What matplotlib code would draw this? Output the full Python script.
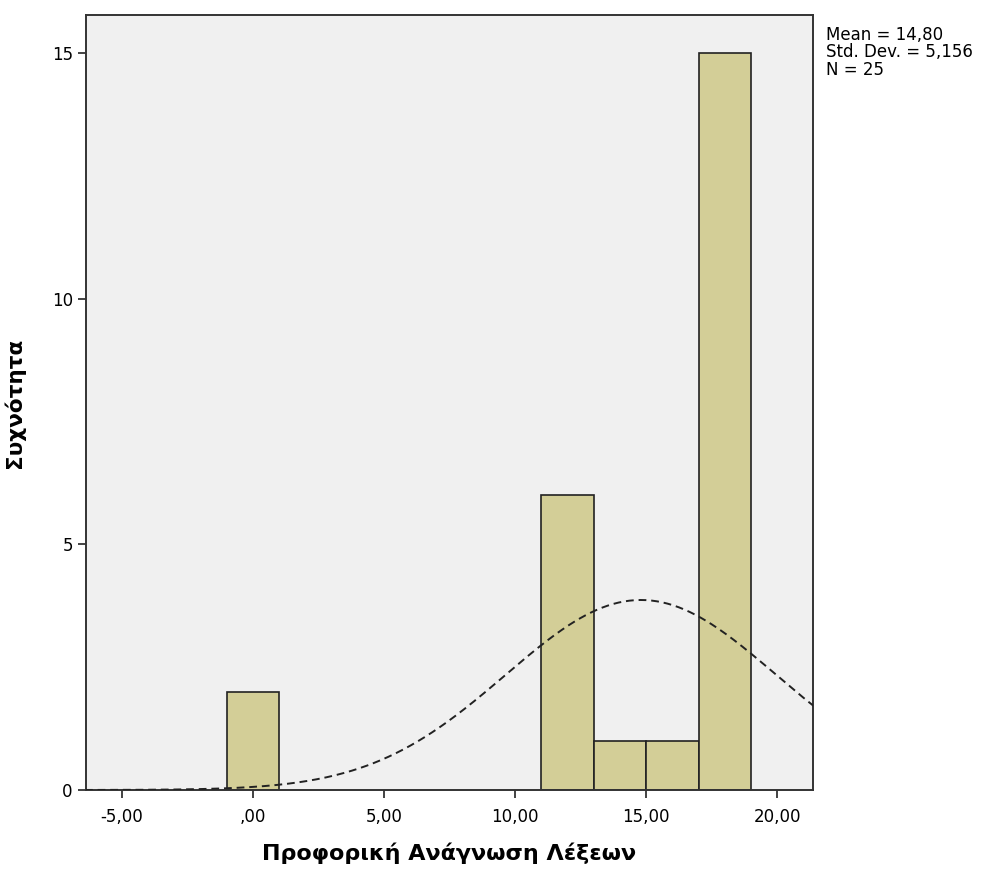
import numpy as np
import matplotlib
matplotlib.use('Agg')
import matplotlib.pyplot as plt
from matplotlib.ticker import FuncFormatter

# histogram bins (left edges) and counts
bin_lefts = [-1, 11, 13, 15, 17]
counts = [2, 6, 1, 1, 15]
bin_width = 2

# summary stats
mean = 14.80
sd = 5.156
n = 25

xticks = [-5, 0, 5, 10, 15, 20]
yticks = [0, 5, 10, 15]

plt.rcParams['font.family'] = ['DejaVu Sans']

fig = plt.figure(figsize=(9.81, 8.71), dpi=100)
ax = fig.add_axes([0.0877, 0.093, 0.741, 0.8898])
ax.set_facecolor('#f0f0f0')

ax.bar(bin_lefts, counts, width=bin_width, align='edge',
       color='#d3ce97', edgecolor='#222222', linewidth=1.2, zorder=2)

# normal curve
xs = np.linspace(-6.4, 21.4, 400)
ys = n * bin_width / (sd * np.sqrt(2 * np.pi)) * np.exp(-0.5 * ((xs - mean) / sd) ** 2)
ax.plot(xs, ys, color='#222222', linestyle=(0, (4, 2.5)), linewidth=1.4, zorder=3)

ax.set_xlim(-6.36, 21.36)
ax.set_ylim(0, 15.78)

def comma_fmt(v, pos):
    s = '%.2f' % v
    s = s.replace('.', ',')
    if s.startswith('0,'):
        s = s[1:]
    if s.startswith('-0,00'):
        s = ',00'
    return s

ax.set_xticks(xticks)
ax.xaxis.set_major_formatter(FuncFormatter(comma_fmt))
ax.set_yticks(yticks)
ax.tick_params(direction='out', length=6, width=1.2, labelsize=12, color='#222222')
ax.tick_params(axis='x', pad=7)

for sp in ax.spines.values():
    sp.set_color('#333333')
    sp.set_linewidth(1.4)

ax.set_xlabel('Προφορική Ανάγνωση Λέξεων', fontsize=16, fontweight='bold', labelpad=12)
ax.set_ylabel('Συχνότητα', fontsize=15.5, fontweight='bold')
ax.yaxis.set_label_coords(-0.084, 0.5)

fig.text(0.842, 0.97, 'Mean = 14,80\nStd. Dev. = 5,156\nN = 25',
         fontsize=12, va='top', ha='left', linespacing=0.95)

fig.savefig('out.png', dpi=100)
